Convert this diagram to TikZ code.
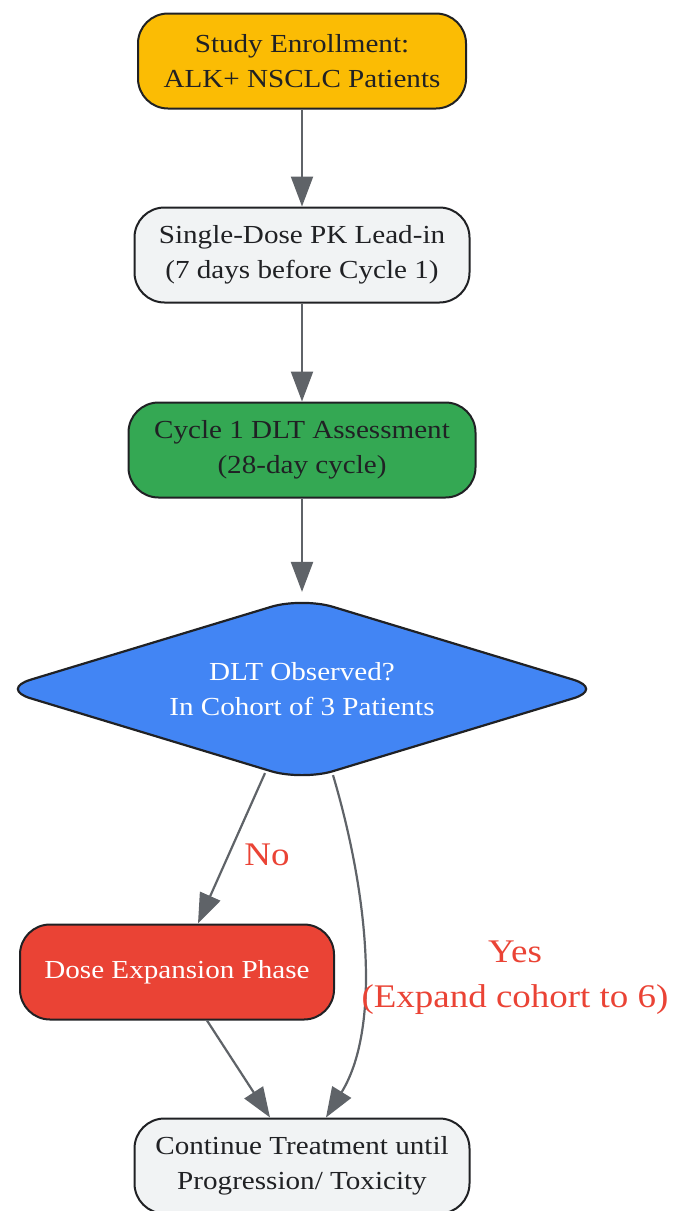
\documentclass[tikz,border=0pt]{standalone}
\usepackage{fontspec}
\setmainfont{Liberation Serif}[FakeStretch=1.12]
\usetikzlibrary{arrows.meta,shapes.geometric}
\definecolor{cyel}{HTML}{FBBC04}
\definecolor{cgray}{HTML}{F1F3F4}
\definecolor{cgreen}{HTML}{34A853}
\definecolor{cblue}{HTML}{4285F4}
\definecolor{cred}{HTML}{EA4335}
\definecolor{cborder}{HTML}{202124}
\definecolor{cedge}{HTML}{5F6368}
\definecolor{ctext}{HTML}{202124}
\begin{document}
\begin{tikzpicture}[x=1pt,y=-1pt,
  box/.style={draw=cborder, line width=2pt, rounded corners=30pt, align=center,
    minimum height=95pt, inner sep=0pt, text=ctext,
    font=\fontsize{26}{35}\selectfont},
  dec/.style={draw=cborder, line width=2.2pt, shape=diamond, aspect=3.34, rounded corners=32pt,
    align=center, minimum width=605pt, minimum height=184pt, inner sep=0pt,
    fill=cblue, text=white, font=\fontsize{26}{35}\selectfont},
  conn/.style={draw=cedge, line width=2.2pt, -{Triangle[length=30pt,width=22pt]}},
  lbl/.style={text=cred, align=center, font=\fontsize{33}{45}\selectfont}
]
\useasboundingbox (0,0) rectangle (673,1211);
\clip (0,0) rectangle (673,1211);

\node[box, fill=cyel, minimum width=328pt] (enr) at (302,61) {Study Enrollment:\\ALK+ NSCLC Patients};
\node[box, fill=cgray, minimum width=335pt] (pk) at (302,255) {Single-Dose PK Lead-in\\(7 days before Cycle 1)};
\node[box, fill=cgreen, minimum width=347pt] (dlt) at (302,450) {Cycle 1 DLT Assessment\\(28-day cycle)};
\node[dec] (dia) at (302,689) {DLT Observed?\\In Cohort of 3 Patients};
\node[box, fill=cred, text=white, minimum width=314pt] (exp) at (177,972) {Dose Expansion Phase};
\node[box, fill=cgray, minimum width=335pt] (cont) at (302,1166) {Continue Treatment until\\Progression/ Toxicity};

\draw[conn] (enr.south) -- (pk.north);
\draw[conn] (pk.south) -- (dlt.north);
\draw[conn] (dlt.south) -- ([yshift=4pt]dia.north);

\draw[conn] ([xshift=-37pt,yshift=9pt]dia.south) -- ([xshift=21pt]exp.north);
\node[lbl] (no) at (267,855) {No};

\draw[conn] ([xshift=31pt,yshift=7pt]dia.south) .. controls (370,900) and (380,1030) .. ([xshift=24pt]cont.north);
\node[lbl] (yes) at (515,978) {Yes\\(Expand cohort to 6)};

\draw[conn] ([xshift=30pt]exp.south) -- ([xshift=-32pt]cont.north);
\end{tikzpicture}
\end{document}
